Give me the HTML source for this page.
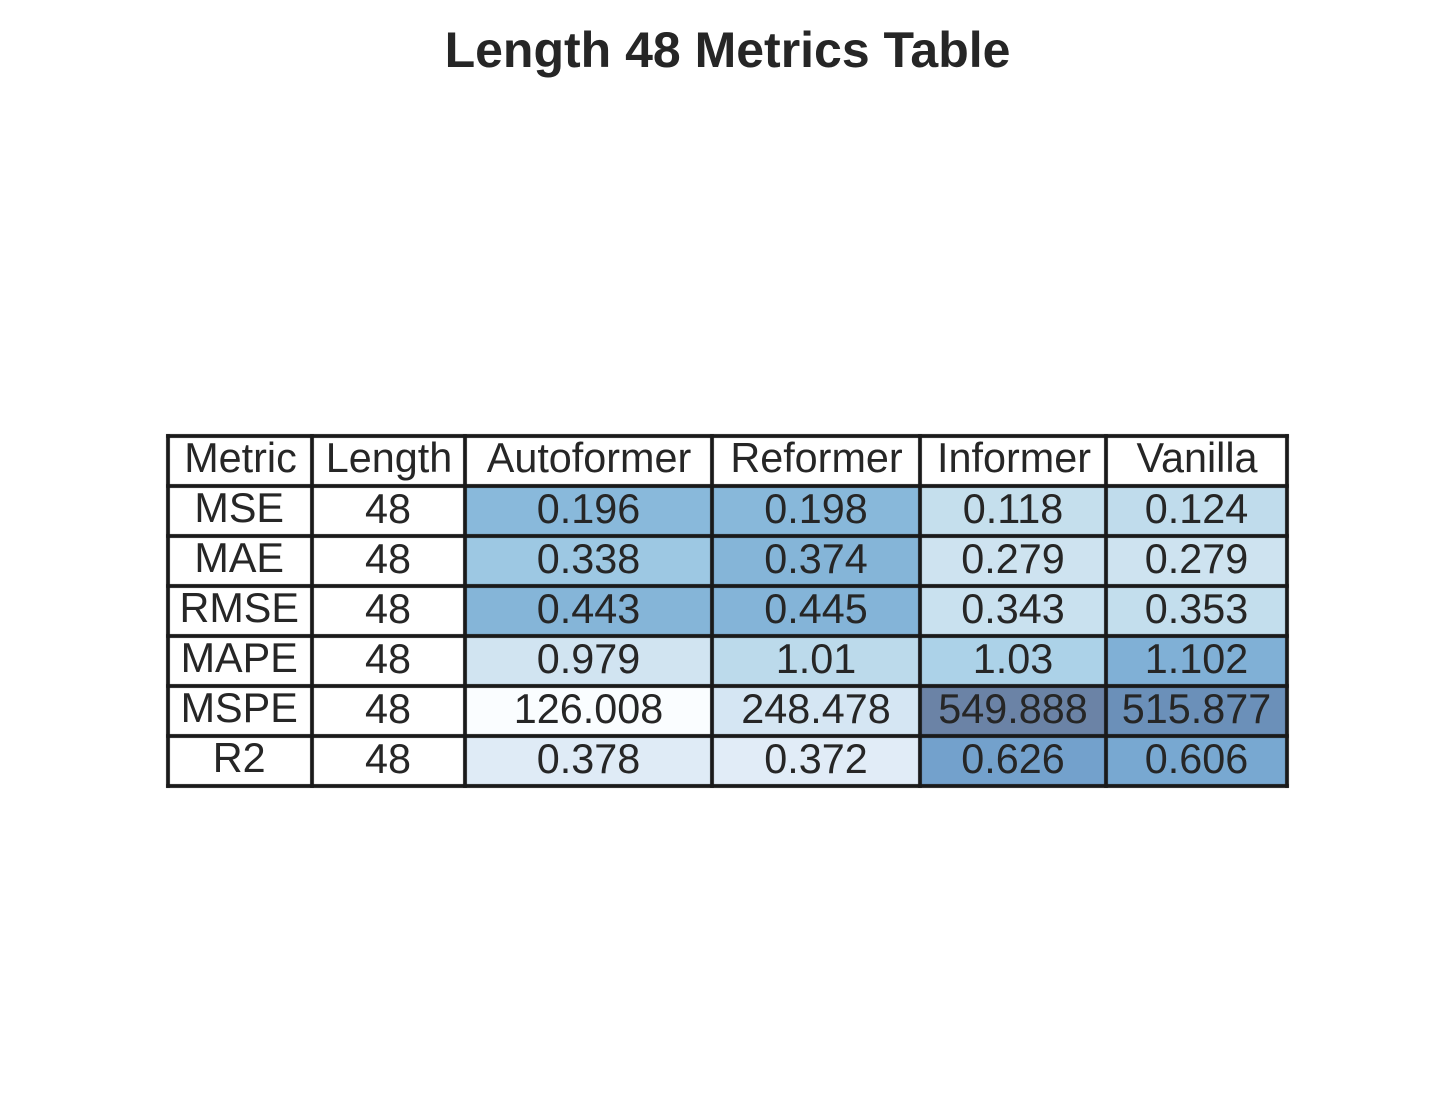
<!DOCTYPE html>
<html lang="en">
<head>
<meta charset="utf-8">
<title>Length 48 Metrics Table</title>
<style>
html,body{margin:0;padding:0;background:#fff;}
svg{display:block;}
text{font-family:"Liberation Sans",Arial,sans-serif;fill:#262626;text-anchor:middle;}
</style>
</head>
<body>
<svg id="chart" xmlns="http://www.w3.org/2000/svg" width="1455" height="1103" viewBox="0 0 1455 1103">
<rect x="0" y="0" width="1455" height="1103" fill="#ffffff"/>
<text x="727.5" y="67" font-size="50" font-weight="700">Length 48 Metrics Table</text>
<g id="table"></g>
</svg>
<script>
const headers = ['Metric', 'Length', 'Autoformer', 'Reformer', 'Informer', 'Vanilla'];
const metrics = ['MSE', 'MAE', 'RMSE', 'MAPE', 'MSPE', 'R2'];
const lengths = [48, 48, 48, 48, 48, 48];
const autoformer = [0.196, 0.338, 0.443, 0.979, 126.008, 0.378];
const reformer = [0.198, 0.374, 0.445, 1.01, 248.478, 0.372];
const informer = [0.118, 0.279, 0.343, 1.03, 549.888, 0.626];
const vanilla = [0.124, 0.279, 0.353, 1.102, 515.877, 0.606];
const colorDomainLow = [0.0127, 0.19, 0.236, 0.8836, 126.008, 0.28];
const colorDomainHigh = [0.2936, 0.46, 0.541, 1.191, 549.888, 0.708];

const TABLE_LEFT = 168, TABLE_TOP = 436, ROW_H = 50;
const COL_W = [144, 153, 247, 208, 186, 181];
const BLUES = [[247,251,255],[222,235,247],[198,219,239],[158,202,225],[107,174,214],[66,146,198],[33,113,181],[8,81,156],[8,48,107]];
const SVG_NS = 'http://www.w3.org/2000/svg';
const table = document.getElementById('table');

function xEdge(col) {
  let x = TABLE_LEFT;
  for (let i = 0; i < col; i++) x += COL_W[i];
  return x;
}
function yEdge(row) {
  return TABLE_TOP + row * ROW_H;
}
function cellColor(value, metricIndex) {
  const lo = colorDomainLow[metricIndex], hi = colorDomainHigh[metricIndex];
  const t = Math.max(0, Math.min(1, (value - lo) / (hi - lo)));
  const p = t * (BLUES.length - 1);
  const i = Math.min(BLUES.length - 2, Math.floor(p));
  const f = p - i;
  const c = [0, 1, 2].map(k => {
    const base = BLUES[i][k] + (BLUES[i + 1][k] - BLUES[i][k]) * f;
    return Math.round(base * 0.6 + 255 * 0.4);
  });
  return 'rgb(' + c.join(',') + ')';
}
function drawCell(col, row, fill, label, baselineOffset, dx, name) {
  const rect = document.createElementNS(SVG_NS, 'rect');
  rect.setAttribute('x', xEdge(col));
  rect.setAttribute('y', yEdge(row));
  rect.setAttribute('width', COL_W[col]);
  rect.setAttribute('height', ROW_H);
  rect.setAttribute('fill', fill);
  
  
  cellLayer.appendChild(rect);

  const text = document.createElementNS(SVG_NS, 'text');
  text.setAttribute('x', xEdge(col) + COL_W[col] / 2 + dx);
  text.setAttribute('y', yEdge(row) + baselineOffset);
  text.setAttribute('font-size', '41.35');
  text.textContent = label;
  
  
  textLayer.appendChild(text);
}
function drawRule(x1, y1, x2, y2, name) {
  const halo = document.createElementNS(SVG_NS, 'line');
  halo.setAttribute('x1', x1);
  halo.setAttribute('y1', y1);
  halo.setAttribute('x2', x2);
  halo.setAttribute('y2', y2);
  halo.setAttribute('stroke', 'rgba(0,0,0,0.08)');
  halo.setAttribute('stroke-width', '5.2');
  
  
  haloLayer.appendChild(halo);

  const line = document.createElementNS(SVG_NS, 'line');
  line.setAttribute('x1', x1);
  line.setAttribute('y1', y1);
  line.setAttribute('x2', x2);
  line.setAttribute('y2', y2);
  line.setAttribute('stroke', '#1a1a1a');
  line.setAttribute('stroke-width', '3.7');
  
  
  lineLayer.appendChild(line);
}

const cellLayer = document.createElementNS(SVG_NS, 'g');
const haloLayer = document.createElementNS(SVG_NS, 'g');
const lineLayer = document.createElementNS(SVG_NS, 'g');
const textLayer = document.createElementNS(SVG_NS, 'g');
table.appendChild(cellLayer);
table.appendChild(haloLayer);
table.appendChild(lineLayer);
table.appendChild(textLayer);

headers.forEach((h, c) => {
  drawCell(c, 0, '#ffffff', h, 36, h === 'Informer' ? 1 : 0.5, 'header-' + h.toLowerCase());
});

const models = [autoformer, reformer, informer, vanilla];
metrics.forEach((m, r) => {
  drawCell(0, r + 1, '#ffffff', m, 36, -0.8, 'metric-' + m.toLowerCase());
  drawCell(1, r + 1, '#ffffff', String(lengths[r]), 37, -0.5, 'length-' + m.toLowerCase());
  models.forEach((series, s) => {
    drawCell(s + 2, r + 1, cellColor(series[r], r), String(series[r]), 37, 0,
      headers[s + 2].toLowerCase() + '-' + m.toLowerCase());
  });
});

const rowCount = metrics.length + 1;
for (let c = 0; c <= headers.length; c++) {
  drawRule(xEdge(c), yEdge(0) - 1.85, xEdge(c), yEdge(rowCount) + 1.85, 'table-vertical-rule');
}
for (let r = 0; r <= rowCount; r++) {
  drawRule(xEdge(0) - 1.85, yEdge(r), xEdge(headers.length) + 1.85, yEdge(r), 'table-horizontal-rule');
}
</script>
</body>
</html>
